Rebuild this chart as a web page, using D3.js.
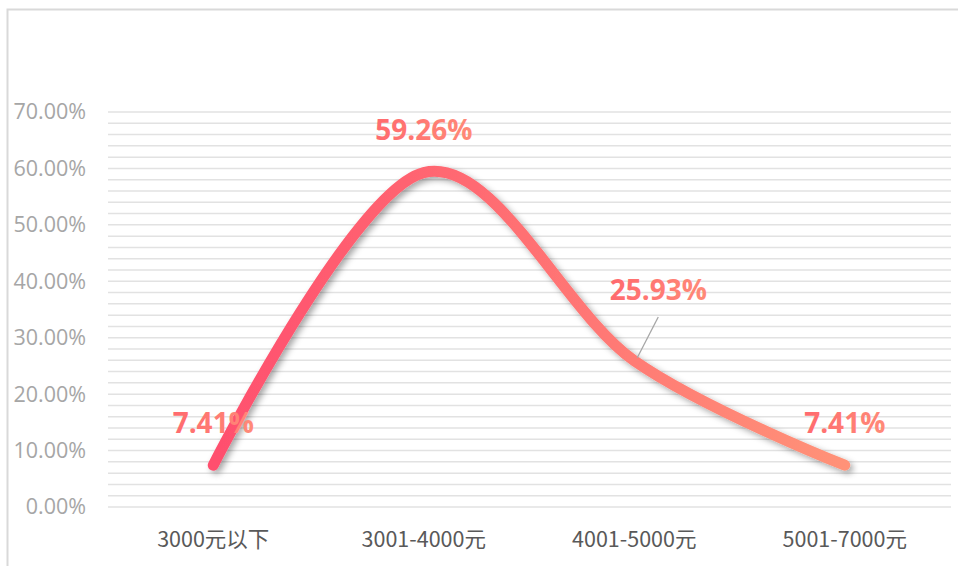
<!DOCTYPE html>
<html><head><meta charset="utf-8">
<script src="https://cdn.jsdelivr.net/npm/d3@7"></script>
<style>html,body{margin:0;padding:0;background:#fff;}svg{display:block;}</style>
</head><body>
<script>
const categories = ["3000元以下", "3001-4000元", "4001-5000元", "5001-7000元"];
const values = [7.41, 59.26, 25.93, 7.41];
const yTicks = [0, 10, 20, 30, 40, 50, 60, 70];
const minorTicks = d3.range(0, 70.001, 2);

const W = 958, H = 566;
const svg = d3.select("body").append("svg").attr("width", W).attr("height", H);
const defs = svg.append("defs");

// frame
svg.append("path").attr("d", `M7.5,${H} V9.5 H${W}`).attr("fill", "none")
  .attr("stroke", "#d9d9d9").attr("stroke-width", 2);

const x = d3.scaleBand().domain(categories).range([108, 950]);
const y = d3.scaleLinear().domain([0, 70]).range([507, 112]);

// gridlines
svg.append("g").selectAll("line").data(minorTicks).join("line")
  .attr("x1", 108).attr("x2", 951)
  .attr("y1", d => y(d)).attr("y2", d => y(d))
  .attr("stroke", "#e2e2e2").attr("stroke-width", 1.5);

// y axis labels
const yAxis = svg.append("g").attr("transform", "translate(86,0)")
  .call(d3.axisLeft(y).tickValues(yTicks).tickSize(0).tickPadding(0).tickFormat(d => d.toFixed(2) + "%"));
yAxis.select(".domain").remove();
yAxis.selectAll("text").attr("fill", "#a6a6a6").style("font-size", "21.5px")
  .style("font-family", "'Open Sans','Noto Sans',sans-serif");

// x axis labels
const xAxis = svg.append("g").attr("transform", "translate(0,507)")
  .call(d3.axisBottom(x).tickSize(0).tickPadding(25));
xAxis.select(".domain").remove();
xAxis.selectAll("text").attr("fill", "#595959").style("font-size", "21.5px")
  .style("font-family", "'Noto Sans CJK SC','Noto Sans',sans-serif");

// gradient for line
const cx = d => x(d) + x.bandwidth() / 2;
const lg = defs.append("linearGradient").attr("id", "lg").attr("gradientUnits", "userSpaceOnUse")
  .attr("x1", cx(categories[0])).attr("x2", cx(categories[3])).attr("y1", 0).attr("y2", 0);
lg.append("stop").attr("offset", "0%").attr("stop-color", "#ff4f6e");
lg.append("stop").attr("offset", "100%").attr("stop-color", "#ff9278");

const tg = defs.append("linearGradient").attr("id", "tg");
tg.append("stop").attr("offset", "0%").attr("stop-color", "#ff6a6e");
tg.append("stop").attr("offset", "100%").attr("stop-color", "#ff8a78");

const f = defs.append("filter").attr("id", "sh").attr("x", "-20%").attr("y", "-20%").attr("width", "140%").attr("height", "140%");
f.append("feDropShadow").attr("dx", 3).attr("dy", 3).attr("stdDeviation", 3)
  .attr("flood-color", "#000").attr("flood-opacity", 0.35);

const pts = categories.map((c, i) => [cx(c), y(values[i])]);
const line = d3.line().curve(d3.curveCatmullRom.alpha(0));
svg.append("path").attr("d", line(pts)).attr("fill", "none")
  .attr("stroke", "url(#lg)").attr("stroke-width", 11).attr("stroke-linecap", "round")
  .attr("filter", "url(#sh)");

// leader line for 25.93%
svg.append("line").attr("x1", cx(categories[2]) + 24).attr("y1", 317)
  .attr("x2", cx(categories[2]) + 3).attr("y2", y(values[2]) - 3)
  .attr("stroke", "#a6a6a6").attr("stroke-width", 1.3);

// data labels
const labelPos = [
  {dx: 0, dy: -32},
  {dx: 0, dy: -33},
  {dx: 24, dy: -61},
  {dx: 0, dy: -32}
];
svg.append("g").selectAll("text").data(values).join("text")
  .attr("x", (d, i) => pts[i][0] + labelPos[i].dx)
  .attr("y", (d, i) => pts[i][1] + labelPos[i].dy)
  .attr("text-anchor", "middle")
  .attr("fill", "url(#tg)")
  .style("font-size", "28px").style("font-weight", "bold")
  .style("font-family", "'Open Sans','Noto Sans',sans-serif")
  .text(d => d.toFixed(2) + "%");
</script>
</body></html>
